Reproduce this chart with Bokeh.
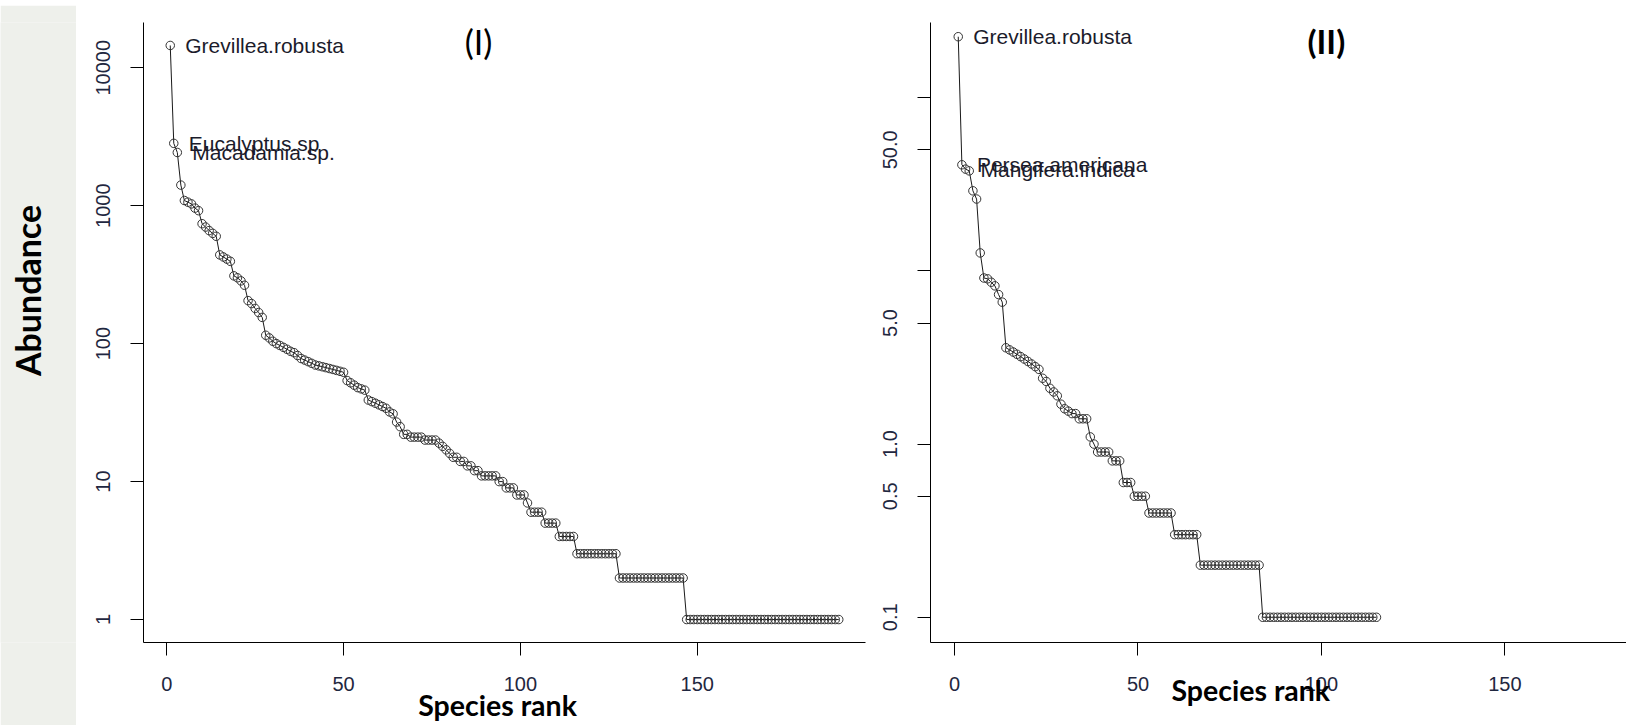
import math
from bokeh.plotting import figure
from bokeh.layouts import row, column
from bokeh.models import Range1d, FixedTicker, Label, ColumnDataSource
from bokeh.core.properties import value
from bokeh.embed import file_html
from bokeh.resources import INLINE

# ---------------- data ----------------
# Panel (I): abundance of each species, by rank
abund_I = [14500, 2830, 2430, 1410, 1090, 1060, 1030, 960, 920,
           740, 700, 660, 630, 600, 440, 425, 410, 395, 310, 300, 285, 265,
           205, 195, 180, 168, 155,
           115, 110, 104, 100, 97, 94, 91, 88, 86, 82, 78, 76, 74, 72, 70, 69, 68, 67, 66, 65, 64, 63, 62,
           54, 52, 50, 48, 47, 46, 39, 38, 37, 36, 35, 34, 32, 31, 27, 25,
           22, 22, 21, 21, 21, 21, 20, 20, 20, 20, 19, 18, 17, 16, 15, 15,
           14, 14, 13, 13, 12, 12, 11, 11, 11, 11, 11, 10, 10, 9, 9, 9, 8, 8, 8, 7,
           6, 6, 6, 6, 5, 5, 5, 5, 4, 4, 4, 4, 4,
           3, 3, 3, 3, 3, 3, 3, 3, 3, 3, 3, 3,
           2, 2, 2, 2, 2, 2, 2, 2, 2, 2, 2, 2, 2, 2, 2, 2, 2, 2, 2,
           1, 1, 1, 1, 1, 1, 1, 1, 1, 1, 1, 1, 1, 1, 1, 1, 1, 1, 1, 1, 1, 1,
           1, 1, 1, 1, 1, 1, 1, 1, 1, 1, 1, 1, 1, 1, 1, 1, 1, 1, 1, 1, 1, 1]

# Panel (II): abundance of each species, by rank
abund_II = [225, 41, 38.7, 37.8, 29, 26, 12.7, 9.1, 9.0, 8.6, 8.2, 7.3, 6.6,
            3.6, 3.5, 3.4, 3.3, 3.2, 3.1, 3.0, 2.9, 2.8, 2.7, 2.4, 2.3, 2.1, 2.0, 1.9,
            1.7, 1.6, 1.55, 1.5, 1.5, 1.4, 1.4, 1.4, 1.1, 1.0,
            0.9, 0.9, 0.9, 0.9, 0.8, 0.8, 0.8, 0.6, 0.6, 0.6, 0.5, 0.5, 0.5, 0.5,
            0.4, 0.4, 0.4, 0.4, 0.4, 0.4, 0.4,
            0.3, 0.3, 0.3, 0.3, 0.3, 0.3, 0.3,
            0.2, 0.2, 0.2, 0.2, 0.2, 0.2, 0.2, 0.2, 0.2, 0.2, 0.2, 0.2, 0.2, 0.2, 0.2, 0.2, 0.2,
            0.1, 0.1, 0.1, 0.1, 0.1, 0.1, 0.1, 0.1, 0.1, 0.1, 0.1, 0.1, 0.1, 0.1, 0.1, 0.1,
            0.1, 0.1, 0.1, 0.1, 0.1, 0.1, 0.1, 0.1, 0.1, 0.1, 0.1, 0.1, 0.1, 0.1, 0.1, 0.1]

rank_I = list(range(1, len(abund_I) + 1))
rank_II = list(range(1, len(abund_II) + 1))

names_I = ["Grevillea.robusta", "Eucalyptus.sp", "Macadamia.sp."]
name_ranks_I = [1, 2, 3]
names_II = ["Grevillea.robusta", "Persea.americana", "Mangifera.indica"]
name_ranks_II = [1, 2, 3]

x_ticks = [0, 50, 100, 150]
y_ticks_I = [1, 10, 100, 1000, 10000]
y_tick_labels_I = ["1", "10", "100", "1000", "10000"]
y_ticks_II = [0.1, 0.5, 1, 5, 10, 50, 100]
y_tick_labels_II = ["0.1", "0.5", "1.0", "5.0", "", "50.0", ""]

panel_titles = ["(I)", "(II)"]
x_title = "Species rank"
y_title = "Abundance"

# ---------------- styling / layout constants ----------------
TICK_COLOR = "#1f2740"
TEXT_COLOR = "#1b1b2b"
STRIP_COLOR = "#eef0eb"
TOP_COLOR = "#efefec"
W = 1626
T = 5            # top strip height
RH = 725 - T     # height of the row of panels
NBSP = "\u00a0"

# every plot in the row shares the same frame top / bottom (Bokeh aligns them)
FR_TOP, FR_BOT = 22, 642
B_TOP = FR_TOP - T
B_BOT = RH - B_TOP - (FR_BOT - FR_TOP)


def r_expand(lo, hi, f=0.04):
    d = (hi - lo) * f
    return lo - d, hi + d

# shared x limits (R style 4% expansion)
xlo, xhi = r_expand(1, len(abund_I))
lI = r_expand(math.log10(min(abund_I)), math.log10(max(abund_I)))
lII_r = r_expand(math.log10(min(abund_II)), math.log10(max(abund_II)))
# panel II in the picture: R frame spans 13..640 px; ours spans FR_TOP..FR_BOT
R2_TOP, R2_BOT = 13, 640
per_px = (lII_r[1] - lII_r[0]) / (R2_BOT - R2_TOP)
lII = (lII_r[0] - (FR_BOT - R2_BOT) * per_px, lII_r[1] - (FR_TOP - R2_TOP) * per_px)

# frame geometry (page pixels)
F1 = dict(left=143, top=FR_TOP, w=722, h=FR_BOT - FR_TOP)
F2 = dict(left=928, top=FR_TOP, w=698, h=FR_BOT - FR_TOP)
FULL2_W = 751  # panel II frame would be this wide; it is cut at the window edge
xhi2 = xlo + (xhi - xlo) * F2["w"] / FULL2_W
P1_X, P2_X = 76, 880


def to_x(px, F, x0, x1):
    return x0 + (px - F["left"]) / F["w"] * (x1 - x0)


def to_y(py, F, l0, l1):
    return 10 ** (l1 - (py - F["top"]) / F["h"] * (l1 - l0))


def style(p, yticks, ylabels):
    p.grid.visible = False
    p.outline_line_color = None
    p.background_fill_color = "white"
    p.border_fill_color = "white"
    p.xaxis.ticker = FixedTicker(ticks=x_ticks)
    p.yaxis.ticker = FixedTicker(ticks=yticks)
    p.yaxis.major_label_overrides = {t: l for t, l in zip(yticks, ylabels)}
    p.xaxis.major_label_overrides = {t: str(t) for t in x_ticks}
    for ax in (p.xaxis[0], p.yaxis[0]):
        ax.axis_line_color = "black"
        ax.axis_line_width = 1
        ax.major_tick_line_color = "black"
        ax.major_tick_line_width = 1
        ax.major_tick_out = 13
        ax.major_tick_in = 0
        ax.minor_tick_line_color = None
        ax.major_label_text_font = "Liberation Sans"
        ax.major_label_text_font_size = "20px"
        ax.major_label_text_color = TICK_COLOR
    p.yaxis.major_label_orientation = "parallel"
    p.yaxis.major_label_standoff = 20
    p.xaxis.major_label_standoff = 21
    xa = p.xaxis[0]
    xa.axis_label_text_font = "Lato"
    xa.axis_label_text_font_style = "bold"
    xa.axis_label_text_font_size = "28.5px"
    xa.axis_label_text_color = "black"


def draw_series(p, ranks, ab, names, name_ranks):
    src = ColumnDataSource(dict(x=ranks, y=ab))
    p.line("x", "y", source=src, line_color="#1a1a1a", line_width=1)
    p.scatter("x", "y", source=src, marker="circle", size=8.5,
              fill_color=None, line_color="#333333", line_width=1)
    lsrc = ColumnDataSource(dict(x=name_ranks, y=[ab[r - 1] for r in name_ranks], t=names))
    p.text("x", "y", text="t", source=lsrc, x_offset=15,
           text_font=value("Liberation Sans"), text_font_size="21px",
           text_color=TEXT_COLOR, text_baseline="middle", text_align="left")


# ---------------- top strip ----------------
top = figure(width=W, height=T, x_range=Range1d(0, 1), y_range=Range1d(0, 1),
             output_backend="svg", toolbar_location=None, title=None,
             x_axis_location=None, y_axis_location=None,
             min_border_left=0, min_border_right=0, min_border_top=0, min_border_bottom=0)
top.grid.visible = False
top.outline_line_color = None
top.background_fill_color = TOP_COLOR
top.border_fill_color = TOP_COLOR

# ---------------- left strip with y title ----------------
strip = figure(width=P1_X, height=RH, x_range=Range1d(0, 1), y_range=Range1d(0, 1),
               output_backend="svg", toolbar_location=None, title=None,
               x_axis_location=None, y_axis_location=None,
               min_border_left=0, min_border_right=0,
               min_border_top=B_TOP, min_border_bottom=B_BOT)
strip.grid.visible = False
strip.outline_line_color = None
strip.background_fill_color = STRIP_COLOR
strip.border_fill_color = STRIP_COLOR
strip.add_layout(Label(x=27 / P1_X, y=(FR_BOT - 290) / (FR_BOT - FR_TOP), text=y_title,
                       angle=math.pi / 2, text_align="center", text_baseline="middle",
                       text_font="Lato", text_font_style="bold", text_font_size="34px",
                       text_color="black"))

# ---------------- panel I ----------------
W1 = P2_X - P1_X
p1 = figure(width=W1, height=RH,
            x_range=Range1d(xlo, xhi), y_range=Range1d(10 ** lI[0], 10 ** lI[1]),
            y_axis_type="log", output_backend="svg", toolbar_location=None, title=None,
            min_border_left=F1["left"] - P1_X, min_border_right=W1 - (F1["left"] - P1_X) - F1["w"],
            min_border_top=B_TOP, min_border_bottom=B_BOT)
style(p1, y_ticks_I, y_tick_labels_I)
p1.xaxis.axis_label = x_title + NBSP * 2
p1.xaxis.axis_label_standoff = -6
draw_series(p1, rank_I, abund_I, names_I, name_ranks_I)
p1.add_layout(Label(x=to_x(478, F1, xlo, xhi), y=to_y(41, F1, *lI), text=panel_titles[0],
                    text_align="center", text_baseline="middle",
                    text_font="Lato", text_font_size="34px", text_color="black"))

# ---------------- panel II ----------------
W2 = W - P2_X
p2 = figure(width=W2, height=RH,
            x_range=Range1d(xlo, xhi2), y_range=Range1d(10 ** lII[0], 10 ** lII[1]),
            y_axis_type="log", output_backend="svg", toolbar_location=None, title=None,
            min_border_left=F2["left"] - P2_X, min_border_right=0,
            min_border_top=B_TOP, min_border_bottom=B_BOT)
style(p2, y_ticks_II, y_tick_labels_II)
p2.xaxis.axis_label = x_title + NBSP * 8
p2.xaxis.axis_label_standoff = -21
draw_series(p2, rank_II, abund_II, names_II, name_ranks_II)
p2.add_layout(Label(x=to_x(1325, F2, xlo, xhi2), y=to_y(40, F2, *lII), text=panel_titles[1],
                    text_align="center", text_baseline="middle",
                    text_font="Lato", text_font_style="bold", text_font_size="33px",
                    text_color="black"))

layout = column(top, row(strip, p1, p2, spacing=0), spacing=0)
open("out.html", "w").write(file_html(layout, INLINE))
